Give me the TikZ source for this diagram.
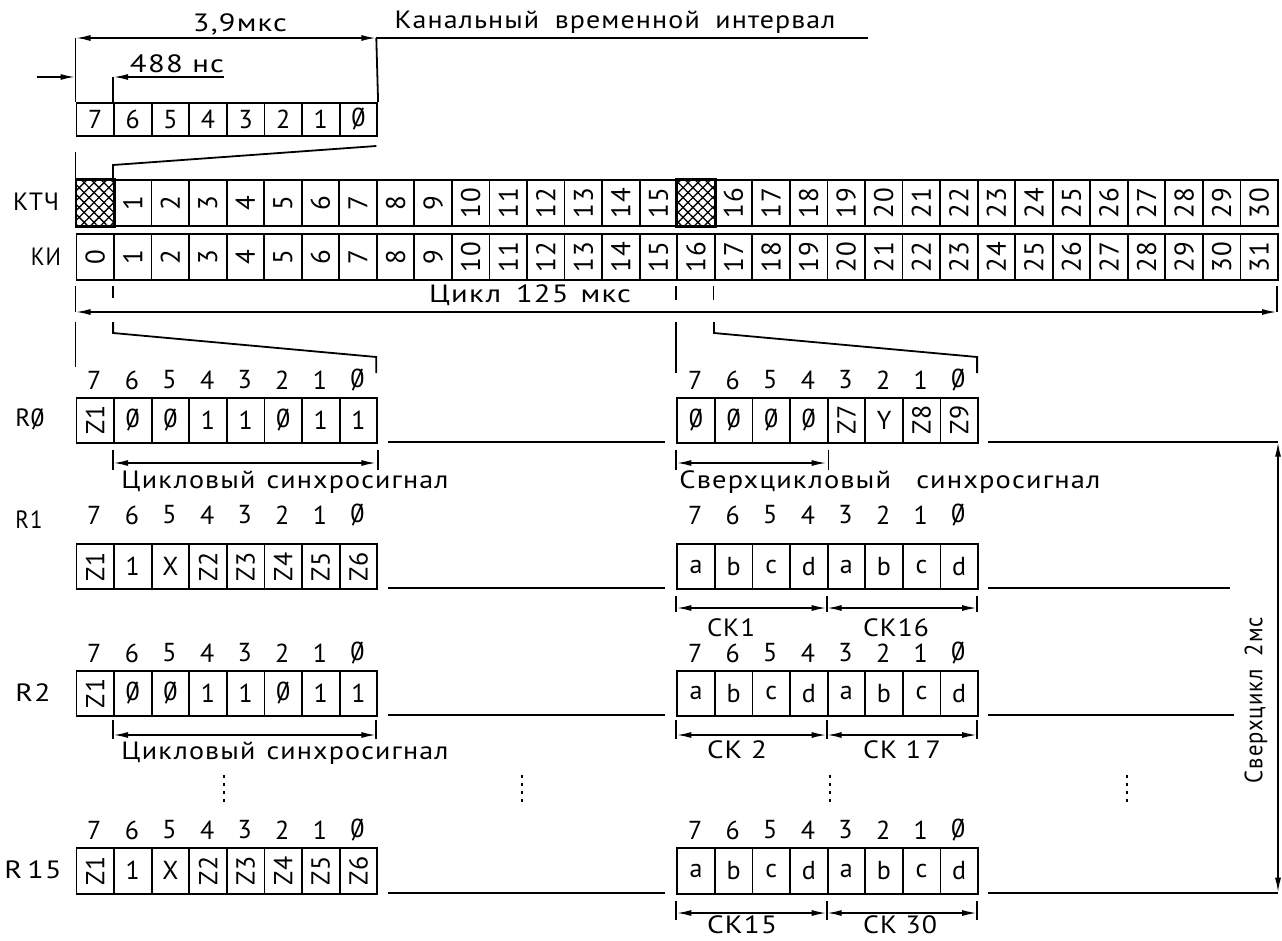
\documentclass[tikz,border=0pt]{standalone}
\usepackage{fontspec}
\setmainfont{PT Sans}[LetterSpace=4]
\usetikzlibrary{arrows.meta,patterns.meta}
\newcommand{\zr}{\ooalign{0\cr\hidewidth/\hidewidth\cr}}
\newcommand{\rt}[1]{\rotatebox{90}{#1}}
\newcommand{\wt}[2]{\resizebox{#1pt}{\height}{#2}}
\newcommand{\byterow}[5]{%
  \foreach \c [count=\k from 0] in {#5} {
    \node[bcell, minimum height=#4pt, anchor=north west] (#1\k) at ({#2+\k*37.6},#3) {\c};
  }}
\newcommand{\bitlabels}[3]{%
  \foreach \b [count=\k from 0] in {7,6,5,4,3,2,1,\zr} {
    \node[bitl] (#1\k) at ({#2+18.8+\k*37.6},#3) {\b};
  }}
\begin{document}
\begin{tikzpicture}[x=1pt,y=-1pt,line width=1.8pt,
  bcell/.style={draw,line width=1.8pt,minimum width=37.6pt,inner sep=0pt,font=\fontsize{26}{26}\selectfont},
  ccell/.style={draw,line width=1.8pt,minimum width=37.55pt,minimum height=45.7pt,inner sep=0pt,anchor=north west,font=\fontsize{27}{27}\selectfont},
  bitl/.style={inner sep=0pt,font=\fontsize{26}{26}\selectfont},
  lbl/.style={inner sep=0pt,font=\fontsize{25}{25}\selectfont},
  txt/.style={inner sep=0pt,font=\fontsize{25}{25}\selectfont},
  dim/.style={{Latex[length=15pt,width=6pt]}-{Latex[length=15pt,width=6pt]}},
  tip/.style={-{Latex[length=15pt,width=6pt]}},
  dots/.style={line width=2.2pt,dash pattern=on 3pt off 5pt}]
\useasboundingbox (0,0) rectangle (1282,940);
\fill[white] (0,0) rectangle (1282,940);

% ---- top byte
\byterow{tb}{75.5}{102}{33}{7,6,5,4,3,2,1,\zr}
\coordinate (a1) at (75.5,38); \coordinate (a2) at (376.3,38); \coordinate (a3) at (868,38);
\draw (tb0.north west) -- (a1);
\draw (tb7.north east) -- (a2);
\draw[dim] (a1) -- (a2);
\draw (a2) -- (a3);
\node[txt] (t39) at (240,24) {\wt{94}{3,9мкс}};
\node[txt] (tkan) at (615,22) {\wt{441}{Канальный\hspace{14pt}временной\hspace{14pt}интервал}};
\coordinate (b0) at (37,77); \coordinate (b1) at (75.5,77); \coordinate (b2) at (113.1,77); \coordinate (b3) at (224,77);
\draw[tip] (b0) -- (b1);
\draw[tip] (b3) -- (b2);
\draw (tb1.north west) -- (b2);
\node[txt] (t488) at (177,64) {\wt{94}{488 нс}};

% ---- KTCh / KI
\node[lbl] (lktch) at (36,202) {\wt{46}{КТЧ}};
\node[lbl] (lki) at (46,257) {\wt{30}{КИ}};
\foreach \i in {0,...,31}{
  \pgfmathtruncatemacro{\n}{\i<16 ? \i : \i-1}
  \node[ccell] (k\i) at ({75.5+\i*37.55},179.3) {\ifnum\i=0 \else\ifnum\i=16 \else\rt{\n}\fi\fi};
  \node[ccell] (i\i) at ({75.5+\i*37.55},233.3) {\rt{\i}};
}
\foreach \i in {0,16}{
  \fill[pattern={Lines[angle=45,distance=7pt,line width=1.3pt]}] (k\i.north west) rectangle (k\i.south east);
  \fill[pattern={Lines[angle=-45,distance=7pt,line width=1.3pt]}] (k\i.north west) rectangle (k\i.south east);
  \draw (k\i.north west) rectangle (k\i.south east);
}
\coordinate (s0) at (75.5,152); \coordinate (s1) at (376.3,146); \coordinate (s2) at (113.05,165);
\draw (s0) -- (k0.north west);
\draw (s1) -- (s2) -- (k1.north west);

% ---- cycle arrow
\coordinate (c1) at (75.5,312); \coordinate (c2) at (1277,312);
\draw (75.5,286) -- (c1);
\draw (1277,286) -- (c2);
\draw (113.05,286) -- (113.05,298);
\draw (675.8,286) -- (675.8,300);
\draw (713.4,286) -- (713.4,300);
\draw[dim] (c1) -- (c2);
\node[txt] (tcyc) at (530,295) {\wt{202}{Цикл\hspace{12pt}125\hspace{10pt}мкс}};

% ---- expansion to R0
\draw (75.5,322) -- (75.5,367);
\draw (113.1,322) -- (113.1,333) -- (376.3,357) -- (376.3,373);
\draw (676.3,322) -- (676.3,373);
\draw (713.9,322) -- (713.9,333) -- (977.1,357) -- (977.1,373);

% ---- R0
\node[lbl] (lr0) at (30,419) {\wt{29}{R\zr}};
\bitlabels{r0b}{75.5}{380}
\byterow{r0}{75.5}{396.7}{45}{\rt{Z1},\zr,\zr,1,1,\zr,1,1}
\bitlabels{r0rb}{676.3}{380}
\byterow{r0r}{676.3}{396.7}{45}{\zr,\zr,\zr,\zr,\rt{Z7},Y,\rt{Z8},\rt{Z9}}
\draw (388,441.7) -- (665,441.7);
\draw (988,441.7) -- (1278,441.7);
\draw (r01.south west) ++(0,6) -- ++(0,20);
\draw (r07.south east) ++(0,6) -- ++(0,20);
\draw[dim] (113.1,463) -- (376.3,463);
\node[txt] (tcs1) at (285,482) {\wt{327}{Цикловый\hspace{10pt}синхросигнал}};
\draw (r0r0.south west) ++(0,6) -- ++(0,20);
\draw (r0r3.south east) ++(0,6) -- ++(0,20);
\draw[dim] (676.3,463) -- (826.7,463);
\node[txt] (tscs) at (890,482) {\wt{421}{Сверхцикловый\hspace{22pt}синхросигнал}};

% ---- R1
\node[lbl] (lr1) at (29,520) {\wt{27}{R1}};
\bitlabels{r1b}{75.5}{515}
\byterow{r1}{75.5}{543.3}{45}{\rt{Z1},1,X,\rt{Z2},\rt{Z3},\rt{Z4},\rt{Z5},\rt{Z6}}
\bitlabels{r1rb}{676.3}{515}
\byterow{r1r}{676.3}{543.3}{45}{a,b,c,d,a,b,c,d}
\draw (388,588.3) -- (665,588.3);
\draw (988,588.3) -- (1230,588.3);
\foreach \x in {676.3,826.7,977.1} \draw (\x,596) -- (\x,612);
\draw[dim] (676.3,608) -- (826.7,608);
\draw[dim] (826.7,608) -- (977.1,608);
\node[txt] (tck1) at (731,628) {\wt{48}{СК1}};
\node[txt] (tck16) at (896,628) {\wt{66}{СК16}};

% ---- R2
\node[lbl] (lr2) at (33,693) {\wt{35}{R2}};
\bitlabels{r2b}{75.5}{653}
\byterow{r2}{75.5}{670}{45}{\rt{Z1},\zr,\zr,1,1,\zr,1,1}
\bitlabels{r2rb}{676.3}{653}
\byterow{r2r}{676.3}{670}{45}{a,b,c,d,a,b,c,d}
\draw (388,715) -- (665,715);
\draw (988,715) -- (1234,715);
\foreach \x in {113.1,376.3} \draw (\x,720) -- (\x,739);
\draw[dim] (113.1,735) -- (376.3,735);
\node[txt] (tcs2) at (285,753) {\wt{327}{Цикловый\hspace{10pt}синхросигнал}};
\foreach \x in {676.3,826.7,977.1} \draw (\x,720) -- (\x,739);
\draw[dim] (676.3,735) -- (826.7,735);
\draw[dim] (826.7,735) -- (977.1,735);
\node[txt] (tck2) at (737,750) {\wt{60}{СК 2}};
\node[txt] (tck17) at (902,750) {\wt{78}{СК 1\,7}};

% ---- dots
\foreach \x in {224,522,830,1127} \draw[dots] (\x,775) -- (\x,806);

% ---- R15
\node[lbl] (lr15) at (33,870) {\wt{57}{R\,15}};
\bitlabels{r15b}{75.5}{830}
\byterow{r15}{75.5}{846.7}{46}{\rt{Z1},1,X,\rt{Z2},\rt{Z3},\rt{Z4},\rt{Z5},\rt{Z6}}
\bitlabels{r15rb}{676.3}{830}
\byterow{r15r}{676.3}{846.7}{46}{a,b,c,d,a,b,c,d}
\draw (388,892.7) -- (665,892.7);
\draw (988,892.7) -- (1278,892.7);
\foreach \x in {676.3,826.7,977.1} \draw (\x,901) -- (\x,920);
\draw[dim] (676.3,913) -- (826.7,913);
\draw[dim] (826.7,913) -- (977.1,913);
\node[txt] (tck15) at (742,925) {\wt{70}{СК15}};
\node[txt] (tck30) at (900,925) {\wt{74}{СК 30}};

% ---- supercycle
\coordinate (v1) at (1278,441.7); \coordinate (v2) at (1278,892.7);
\draw[dim] (v1) -- (v2);
\node[txt,rotate=90] (tsc) at (1256,700) {\wt{166}{Сверхцикл\hspace{14pt}2мс}};
\end{tikzpicture}
\end{document}
